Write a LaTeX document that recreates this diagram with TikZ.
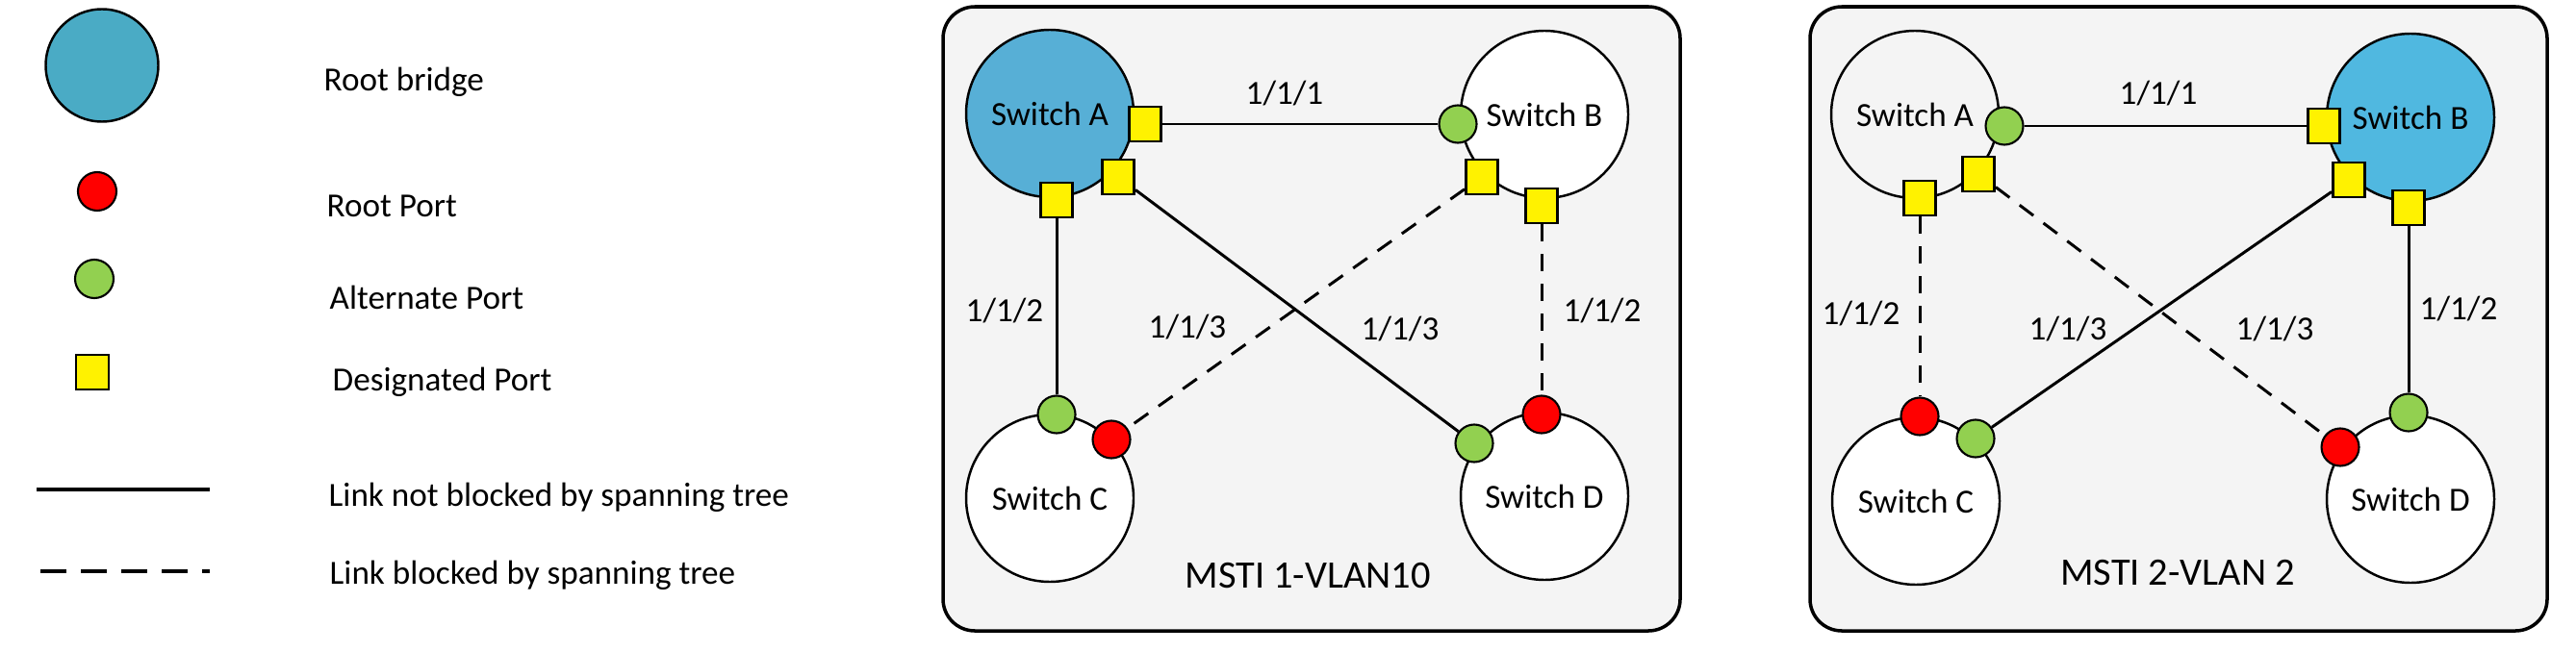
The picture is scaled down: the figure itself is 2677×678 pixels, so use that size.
\documentclass[tikz,border=0pt]{standalone}
\usepackage{fontspec}
\setmainfont{Carlito}
\definecolor{panelgrey}{HTML}{F4F4F4}
\definecolor{rootblue}{HTML}{57AFD6}
\definecolor{rootblueb}{HTML}{50B8E0}
\definecolor{legendteal}{HTML}{4AABC5}
\definecolor{altgreen}{HTML}{92D050}

\begin{document}
\begin{tikzpicture}[x=0.1mm, y=-0.1mm,
  sw/.style = {draw, circle, fill=white, minimum size=17.4mm, inner sep=0pt, line width=0.7pt, font=\fontsize{10}{12}\selectfont},
  rp/.style = {draw, circle, fill=red, minimum size=3.9mm, inner sep=0pt, line width=0.6pt},
  ap/.style = {draw, circle, fill=altgreen, minimum size=3.9mm, inner sep=0pt, line width=0.6pt},
  dp/.style = {draw, rectangle, fill=yellow, minimum width=3.3mm, minimum height=3.6mm, inner sep=0pt, line width=0.85pt},
  link/.style = {line width=0.85pt},
  blocked/.style = {line width=0.85pt, dash pattern=on 1.8mm off 1.3mm},
  lbl/.style = {anchor=base, inner sep=0pt, font=\fontsize{10}{12}\selectfont},
  legtext/.style = {anchor=base west, inner sep=0pt, font=\fontsize{10}{12}\selectfont},
  panel/.style = {draw, fill=panelgrey, rounded corners=3.3mm, line width=1pt}]

\useasboundingbox (0,0) rectangle (2677,678);

% legend
\node[draw, circle, fill=legendteal, minimum size=11.7mm, line width=0.7pt] (Lroot) at (106,68) {};
\node[rp, minimum size=4mm] (Lrp) at (101,199) {};
\node[ap, minimum size=4mm] (Lap) at (98,290) {};
\node[dp, minimum width=3.4mm] (Ldp) at (96,387) {};
\coordinate (Lsa) at (38,509);
\coordinate (Lsb) at (218,509);
\coordinate (Lba) at (42,594);
\coordinate (Lbb) at (218,594);
\draw[line width=0.9pt] (Lsa) -- (Lsb);
\draw[line width=0.9pt, dash pattern=on 2.7mm off 1.5mm] (Lba) -- (Lbb);

\node[legtext] (Troot) at (336,95) {Root bridge};
\node[legtext] (Trp) at (339,225) {Root Port};
\node[legtext] (Tap) at (342,321) {Alternate Port};
\node[legtext] (Tdp) at (345,406) {Designated Port};
\node[legtext] (Tsolid) at (341,526) {Link not blocked by spanning tree};
\node[legtext] (Tdash) at (342,607) {Link blocked by spanning tree};

% MSTI 1
\draw[panel] (980,7) rectangle (1746,656);

\node[sw, fill=rootblue] (A1) at (1091,118) {Switch A};
\node[sw] (B1) at (1605,119) {Switch B};
\node[sw] (C1) at (1091,518) {Switch C};
\node[sw] (D1) at (1605,516) {Switch D};

\node[dp] (A1ab) at (1190,129) {};
\node[dp] (A1ad) at (1162,184) {};
\node[dp] (A1ac) at (1098,208) {};
\node[ap] (B1ba) at (1515,129) {};
\node[dp] (B1bc) at (1540,184) {};
\node[dp] (B1bd) at (1602,214) {};
\node[ap] (C1ca) at (1098,431) {};
\node[rp] (C1cb) at (1155,457) {};
\node[ap] (D1da) at (1532,461) {};
\node[rp] (D1db) at (1602,431) {};

\draw[link] (A1ab) -- (B1ba);
\draw[link] (A1ac) -- (C1ca);
\draw[link] (A1ad) -- (D1da);
\draw[blocked] (B1bc) -- (C1cb);
\draw[blocked] (B1bd) -- (D1db);

\node[lbl] (l1ab) at (1335,109) {1/1/1};
\node[lbl] (l1ac) at (1044,334) {1/1/2};
\node[lbl] (l1bc) at (1234,351) {1/1/3};
\node[lbl] (l1ad) at (1455,353) {1/1/3};
\node[lbl] (l1bd) at (1665,334) {1/1/2};
\node[lbl, font=\fontsize{11.5}{13}\selectfont] (t1) at (1359,611) {MSTI 1-VLAN10};

% MSTI 2
\draw[panel] (1881,7) rectangle (2647,656);

\node[sw, fill=none] (A2) at (1990,119) {Switch A};
\node[sw, fill=rootblueb] (B2) at (2505,122) {Switch B};
\node[sw] (C2) at (1991,521) {Switch C};
\node[sw] (D2) at (2505,519) {Switch D};

\node[ap] (A2ab) at (2083,131) {};
\node[dp] (A2ad) at (2056,181) {};
\node[dp] (A2ac) at (1995,206) {};
\node[dp] (B2ba) at (2415,131) {};
\node[dp] (B2bc) at (2441,187) {};
\node[dp] (B2bd) at (2503,216) {};
\node[rp] (C2ca) at (1995,433) {};
\node[ap] (C2cb) at (2053,456) {};
\node[rp] (D2da) at (2432,465) {};
\node[ap] (D2db) at (2503,429) {};

\draw[link] (A2ab) -- (B2ba);
\draw[blocked] (A2ac) -- (C2ca);
\draw[blocked] (A2ad) -- (D2da);
\draw[link] (B2bc) -- (C2cb);
\draw[link] (B2bd) -- (D2db);

\node[lbl] (l2ab) at (2243,109) {1/1/1};
\node[lbl] (l2ac) at (1934,337) {1/1/2};
\node[lbl] (l2bc) at (2149,353) {1/1/3};
\node[lbl] (l2ad) at (2364,353) {1/1/3};
\node[lbl] (l2bd) at (2555,332) {1/1/2};
\node[lbl, font=\fontsize{11.5}{13}\selectfont] (t2) at (2263,608) {MSTI 2-VLAN 2};

\end{tikzpicture}
\end{document}
